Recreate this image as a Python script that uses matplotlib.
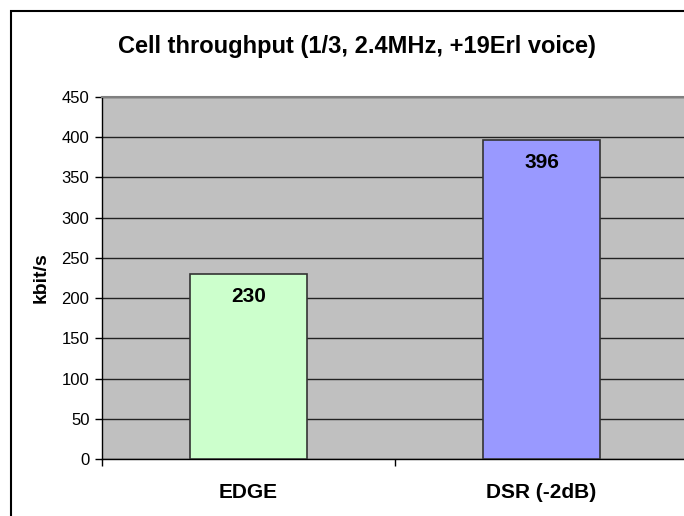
import matplotlib
matplotlib.use("Agg")
import matplotlib.pyplot as plt
from matplotlib.patches import Rectangle

# Data
categories = ["EDGE", "DSR (-2dB)"]
throughput = [230, 396]
bar_colors = ["#CCFFCC", "#9999FF"]
y_ticks = [0, 50, 100, 150, 200, 250, 300, 350, 400, 450]

plt.rcParams["font.family"] = ["Liberation Sans", "DejaVu Sans"]

W, H = 684, 516
fig = plt.figure(figsize=(W / 100, H / 100), dpi=100)
fig.patch.set_facecolor("white")

# Chart area frame (extends past the right/bottom edge of the image)
fig.patches.append(Rectangle((11 / W, -0.2), 1.2, (H - 11) / H + 0.2,
                             transform=fig.transFigure, fill=False,
                             edgecolor="black", linewidth=1.5, zorder=0))

# Plot area in pixel coordinates: x 102..688, y 97..459
left, right, top, bottom = 102, 688, 97, 459
ax = fig.add_axes([left / W, (H - bottom) / H, (right - left) / W, (bottom - top) / H])
ax.set_facecolor("#C0C0C0")

x = list(range(len(categories)))
ax.bar(x, throughput, width=0.4, color=bar_colors, edgecolor="#333333",
       linewidth=1.2, zorder=3)

for xi, v in zip(x, throughput):
    ax.annotate(f"{v}", xy=(xi, v), xytext=(0, -16), textcoords="offset points",
                ha="center", va="center", fontsize=15, fontweight="bold",
                color="black", zorder=4)

ax.set_xlim(-0.5, len(categories) - 0.5)
ax.set_ylim(0, 450)
ax.set_yticks(y_ticks)
ax.tick_params(axis="y", labelsize=12, length=5, width=1, color="black", pad=4)
ax.yaxis.grid(True, color="#222222", linewidth=1.0, zorder=1)
ax.set_axisbelow(True)

# Category labels at bar centres, tick marks at category boundaries
ax.set_xticks(x)
ax.set_xticklabels(categories, fontsize=15, fontweight="bold")
ax.tick_params(axis="x", which="major", length=0, pad=17)
ax.set_xticks([-0.5, 0.5, 1.5], minor=True)
ax.tick_params(axis="x", which="minor", length=5, width=1, color="black")

for side in ["left", "bottom"]:
    ax.spines[side].set_color("black")
    ax.spines[side].set_linewidth(1.0)
ax.spines["top"].set_color("#808080")
ax.spines["top"].set_linewidth(1.5)
ax.spines["right"].set_visible(False)

fig.text(41 / W, 1 - 278 / H, "kbit/s", rotation=90, ha="center", va="center",
         fontsize=14, fontweight="bold")
fig.text(357 / W, 1 - 47 / H, "Cell throughput (1/3, 2.4MHz, +19Erl voice)",
         ha="center", va="center", fontsize=17, fontweight="bold")

fig.savefig("out.png", dpi=100)
